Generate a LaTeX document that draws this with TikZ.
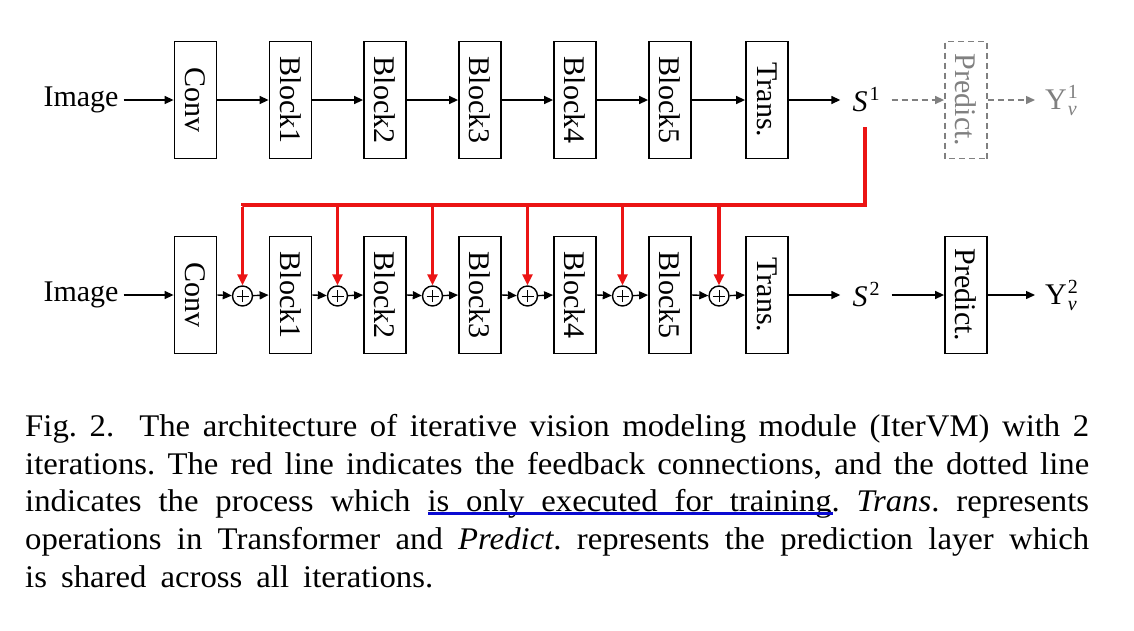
\documentclass[tikz,border=0pt]{standalone}
\usepackage{fontspec}
\setmainfont{Liberation Serif}
\newfontfamily\capfont{Liberation Serif}[FakeStretch=1.04]
\usetikzlibrary{arrows.meta,backgrounds}
\definecolor{hlyellow}{RGB}{252,228,150}
\definecolor{ulblue}{RGB}{10,10,210}
\definecolor{fbred}{RGB}{235,20,20}
\newcommand{\bigfs}{\fontsize{30}{37.5}\selectfont}
\newcommand{\capfs}{\capfont\fontsize{31.5}{37.8}\selectfont}
\newcommand{\supsz}{\fontsize{20}{20}\selectfont}
\newcommand{\Sv}[1]{\textit{S}\hspace{2pt}\raisebox{11pt}{\supsz #1}}
\newcommand{\Yv}[1]{Y\hspace{1pt}\rlap{\raisebox{11pt}{\supsz #1}}\raisebox{-6pt}{\supsz\textit{v}}}
\tikzset{
  blk/.style={draw, line width=1.8pt, rotate=-90, minimum width=117pt, minimum height=42pt, inner sep=0pt, font=\bigfs},
  lbl/.style={inner sep=0pt, font=\bigfs},
  arr/.style={line width=1.4pt, -{Triangle[length=9pt,width=8pt]}},
  darr/.style={line width=1.4pt, gray, dash pattern=on 6pt off 4pt, -{Triangle[length=9pt,width=8pt]}},
  fb/.style={line width=3.5pt, fbred},
  fbarr/.style={line width=3.5pt, fbred, -{Triangle[length=11pt,width=10pt]}},
  plus/.style={draw, circle, line width=1.4pt, minimum size=20pt, inner sep=0pt,
    path picture={\draw[line width=1pt] ([xshift=-6pt]path picture bounding box.center) -- ([xshift=6pt]path picture bounding box.center);
                  \draw[line width=1pt] ([yshift=-6pt]path picture bounding box.center) -- ([yshift=6pt]path picture bounding box.center);}},
}
\begin{document}
\begin{tikzpicture}[x=1pt,y=-1pt]
\useasboundingbox[fill=white] (0,0) rectangle (1134,630);
% ---- top row ----
\node[lbl] (img1) at (81,100) {Image};
\node[blk] (conv1) at (195.5,100) {Conv};
\node[blk] (b11) at (290.5,100) {Block1};
\node[blk] (b12) at (385,100) {Block2};
\node[blk] (b13) at (480,100) {Block3};
\node[blk] (b14) at (575,100) {Block4};
\node[blk] (b15) at (670,100) {Block5};
\node[blk] (tr1) at (767,100) {Trans.};
\node[lbl] (s1) at (866,100) {\Sv{1}};
\node[blk, gray, dash pattern=on 6pt off 4pt] (pr1) at (966,100) {Predict.};
\node[lbl, gray, anchor=west] (y1) at (1045,100) {\Yv{1}};
\draw[arr] ([xshift=5pt]img1.east) -- (conv1.south);
\draw[arr] (conv1.north) -- (b11.south);
\draw[arr] (b11.north) -- (b12.south);
\draw[arr] (b12.north) -- (b13.south);
\draw[arr] (b13.north) -- (b14.south);
\draw[arr] (b14.north) -- (b15.south);
\draw[arr] (b15.north) -- (tr1.south);
\draw[arr] (tr1.north) -- ([xshift=-12pt]s1.west);
\draw[darr] ([xshift=12pt]s1.east) -- (pr1.south);
\draw[darr] (pr1.north) -- ([xshift=-10pt]y1.west);
% ---- bottom row ----
\node[lbl] (img2) at (81,295) {Image};
\node[blk] (conv2) at (195.5,295) {Conv};
\node[blk] (b21) at (290.5,295) {Block1};
\node[blk] (b22) at (385,295) {Block2};
\node[blk] (b23) at (480,295) {Block3};
\node[blk] (b24) at (575,295) {Block4};
\node[blk] (b25) at (670,295) {Block5};
\node[blk] (tr2) at (767,295) {Trans.};
\node[lbl] (s2) at (866,295) {\Sv{2}};
\node[blk] (pr2) at (966,295) {Predict.};
\node[lbl, anchor=west] (y2) at (1045,295) {\Yv{2}};
\node[plus] (c1) at (242.5,296) {};
\node[plus] (c2) at (337.5,296) {};
\node[plus] (c3) at (432.5,296) {};
\node[plus] (c4) at (527.5,296) {};
\node[plus] (c5) at (622.5,296) {};
\node[plus] (c6) at (719,296) {};
\draw[arr] ([xshift=5pt]img2.east) -- (conv2.south);
\draw[arr] (conv2.north) -- (c1);
\draw[arr] (c1) -- (b21.south);
\draw[arr] (b21.north) -- (c2);
\draw[arr] (c2) -- (b22.south);
\draw[arr] (b22.north) -- (c3);
\draw[arr] (c3) -- (b23.south);
\draw[arr] (b23.north) -- (c4);
\draw[arr] (c4) -- (b24.south);
\draw[arr] (b24.north) -- (c5);
\draw[arr] (c5) -- (b25.south);
\draw[arr] (b25.north) -- (c6);
\draw[arr] (c6) -- (tr2.south);
\draw[arr] (tr2.north) -- ([xshift=-12pt]s2.west);
\draw[arr] ([xshift=12pt]s2.east) -- (pr2.south);
\draw[arr] (pr2.north) -- ([xshift=-10pt]y2.west);
% ---- feedback ----
\coordinate (fbtop) at (865,127);
\coordinate (fbcorner) at (865,205);
\draw[fb, line join=miter] (fbtop) -- (fbcorner) -- (c1 |- fbcorner) -- ([yshift=-1pt]c1 |- fbcorner);
\draw[fbarr] ([yshift=-1.75pt]c1 |- fbcorner) -- (c1.north);
\draw[fbarr] (c2 |- fbcorner) -- (c2.north);
\draw[fbarr] (c3 |- fbcorner) -- (c3.north);
\draw[fbarr] (c4 |- fbcorner) -- (c4.north);
\draw[fbarr] (c5 |- fbcorner) -- (c5.north);
\draw[fbarr] (c6 |- fbcorner) -- (c6.north);
% ---- caption ----
\begin{scope}[on background layer]
\fill[hlyellow, rounded corners=16pt] (18,442) rectangle (167,483);
\fill[hlyellow, rounded corners=6pt] (1085,405) rectangle (1098,443);
\end{scope}
\node[inner sep=0pt, font=\capfs, anchor=north west, text width=1064pt, align=justify] (cap) at (25,414)
{\frenchspacing Fig.~2.\ \ The architecture of iterative vision modeling module (IterVM) with 2\linebreak
iterations. The red line indicates the feedback connections, and the dotted line\linebreak
indicates the process which is only executed for training. \textit{Trans}. represents\linebreak
operations in Transformer and \textit{Predict}. represents the prediction layer which\linebreak
{\spaceskip=14pt is shared across all iterations.}};
\draw[ulblue, line width=3pt] (428,513) -- (833,513);
\end{tikzpicture}
\end{document}
